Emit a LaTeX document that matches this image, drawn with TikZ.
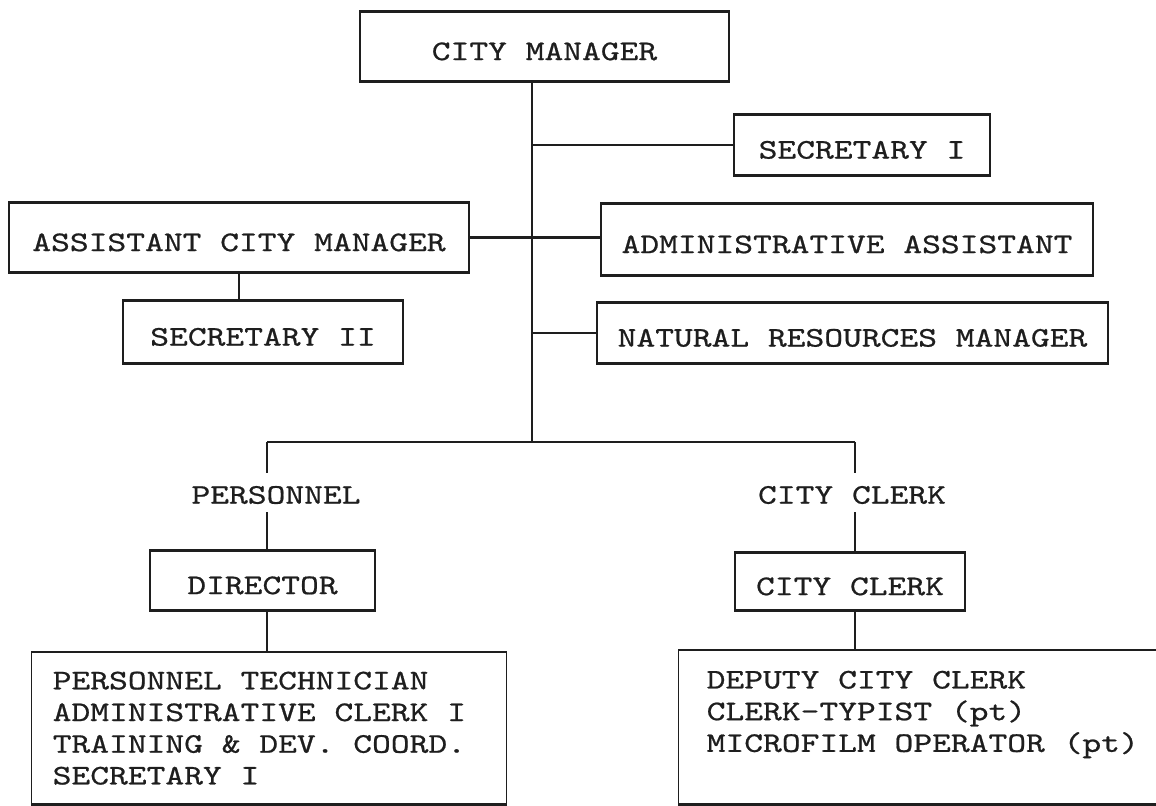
\documentclass[tikz,border=0pt]{standalone}
\usepackage{fontspec}
\newfontfamily\typew[FakeStretch=1.26, FakeBold=0.7, WordSpace={1,0,0}]{lmmono10-regular.otf}
\definecolor{inkc}{HTML}{1E1E1E}
\begin{document}
\begin{tikzpicture}[x=0.5pt,y=-0.5pt,
  txt/.style={font=\typew\fontsize{14.2}{15.85}\selectfont, text=inkc},
  box/.style={txt, draw=inkc, line width=0.7pt, rectangle, inner sep=0pt, text height=13.6pt, text depth=0pt},
  lbl/.style={txt, rectangle, inner sep=0pt, minimum height=19.5pt, text height=11.2pt, text depth=0pt},
  listbox/.style={txt, draw=inkc, line width=0.7pt, rectangle, align=flush left, inner ysep=0pt},
  link/.style={draw=inkc, line width=0.7pt},
  hlink/.style={draw=inkc, line width=1.3pt},
  hedge/.style={draw=inkc, line width=1.4pt}]
\useasboundingbox (0,0) rectangle (1156,806);
\clip (0,0) rectangle (1156,806);
\node[box, minimum width=184.5pt, minimum height=34.5pt] (cm) at (544.5,46.5) {CITY MANAGER};
\node[box, minimum width=128pt, minimum height=30pt] (sec1) at (862,145) {SECRETARY I};
\node[box, minimum width=230pt, minimum height=34.5pt] (acm) at (239,237.5) {ASSISTANT CITY MANAGER};
\node[box, minimum width=246pt, minimum height=35.5pt] (aa) at (847,239.5) {ADMINISTRATIVE ASSISTANT};
\node[box, minimum width=140pt, minimum height=31pt] (sec2) at (263,332) {SECRETARY II};
\node[box, minimum width=255.5pt, minimum height=30pt] (nrm) at (852.5,333) {NATURAL RESOURCES MANAGER};
\node[lbl] (pers) at (276,492.5) {PERSONNEL};
\node[lbl] (ccl) at (852,492.5) {CITY CLERK};
\node[box, minimum width=112.5pt, minimum height=29.5pt] (dir) at (262.5,580.5) {DIRECTOR};
\node[box, minimum width=115pt, minimum height=28.5pt] (cc) at (850,581.5) {CITY CLERK};
\node[listbox, anchor=north west, minimum height=75.5pt, text width=216.5pt, inner xsep=10.5pt] (plist) at (31,652)
  {PERSONNEL TECHNICIAN\\ADMINISTRATIVE CLERK I\\TRAINING \& DEV. COORD.\\SECRETARY I};
\node[listbox, anchor=north west, minimum height=76.5pt, text width=230pt, inner xsep=14pt] (clist) at (678,650)
  {DEPUTY CITY CLERK\\CLERK-TYPIST (pt)\\MICROFILM OPERATOR (pt)\\~};
\foreach \n in {cm,sec1,acm,aa,sec2,nrm,dir,cc,plist,clist}
  \draw[hedge] (\n.north west) -- (\n.north east) (\n.south west) -- (\n.south east);
\coordinate (tj) at (532,442);
\coordinate (lb) at (267,442);
\coordinate (rb) at (855,442);
\draw[link] (tj |- cm.south) -- (tj);
\draw[hlink] (sec1.west) -- (sec1.west -| tj);
\draw[hlink] (acm.east) -- (acm.east -| aa.west);
\draw[hlink] (nrm.west) -- (nrm.west -| tj);
\draw[link] (acm.south) -- (acm.south |- sec2.north);
\draw[hlink] (lb) -- (rb);
\draw[link] (lb) -- (lb |- pers.north);
\draw[link] (rb) -- (rb |- ccl.north);
\draw[link] (pers.south -| lb) -- (dir.north -| lb);
\draw[link] (ccl.south -| rb) -- (cc.north -| rb);
\draw[link] (dir.south -| lb) -- (plist.north -| lb);
\draw[link] (cc.south -| rb) -- (clist.north -| rb);
\end{tikzpicture}
\end{document}
